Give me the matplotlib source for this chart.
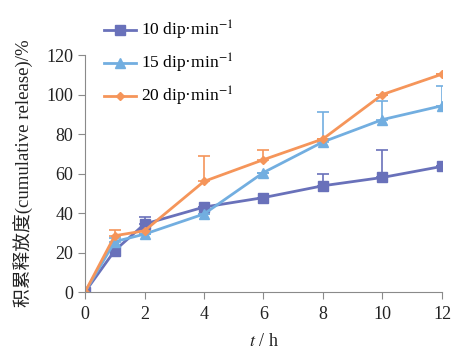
import matplotlib
matplotlib.use("Agg")
import matplotlib.pyplot as plt
from matplotlib.lines import Line2D
import numpy as np

plt.rcParams['font.family'] = ['Liberation Serif', 'Noto Sans CJK SC']
plt.rcParams['mathtext.fontset'] = 'stix'

t = [0, 1, 2, 4, 6, 8, 10, 12]
labels = ["10 dip·min$^{-1}$", "15 dip·min$^{-1}$", "20 dip·min$^{-1}$"]
r10 = [0, 21, 34.4, 43, 47.8, 53.8, 58, 63.6]
r15 = [0, 25.5, 29.3, 39.5, 60.5, 76, 87.3, 94.3]
r20 = [0, 28.5, 31, 56, 67, 77.5, 100, 110.3]
e10 = [0, 2, 3.6, 0, 0, 6, 14, 0]
e15 = [0, 2, 0, 0, 0, 15, 9.5, 10]
e20 = [0, 3, 0, 13, 5, 0, 0, 0]

colors = ['#6971BA', '#72AEE0', '#F5955A']
markers = ['s', '^', 'D']
msizes = [7, 7, 4.5]

fig = plt.figure(figsize=(4.63, 3.49), dpi=100)
ax = fig.add_axes([0.1836, 0.1633, 0.7710, 0.6791])

handles = []
for y, e, c, m, ms, lab in zip([r10, r15, r20], [e10, e15, e20], colors, markers, msizes, labels):
    yerr = [np.zeros(len(e)), e]
    ax.errorbar(t, y, yerr=yerr, color=c, marker=m, markersize=ms, lw=2,
                capsize=4, elinewidth=1.2, capthick=1.2)
    handles.append(Line2D([], [], color=c, marker=m, markersize=ms, lw=2, label=lab))

ax.set_xlim(0, 12)
ax.set_ylim(0, 120)
ax.set_xticks([0, 2, 4, 6, 8, 10, 12])
ax.set_yticks([0, 20, 40, 60, 80, 100, 120])
for s in ['top', 'right']:
    ax.spines[s].set_visible(False)
for s in ['left', 'bottom']:
    ax.spines[s].set_color('#8a8a8a')
ax.tick_params(direction='out', length=5, color='#8a8a8a', labelsize=13, labelcolor='#222222')
ax.tick_params(axis='x', pad=5)
ax.set_xlabel('$t$ / h', fontsize=13, color='#222222', labelpad=7)
ax.set_ylabel('积累释放度(cumulative release)/%', fontsize=13.5, color='#222222', labelpad=9)

leg = ax.legend(handles=handles, loc='upper left', bbox_to_anchor=(0.035, 1.18), frameon=False,
                fontsize=12.5, handlelength=1.8, handletextpad=0.3, labelspacing=0.55, borderaxespad=0)

fig.savefig('out.png', dpi=100)
